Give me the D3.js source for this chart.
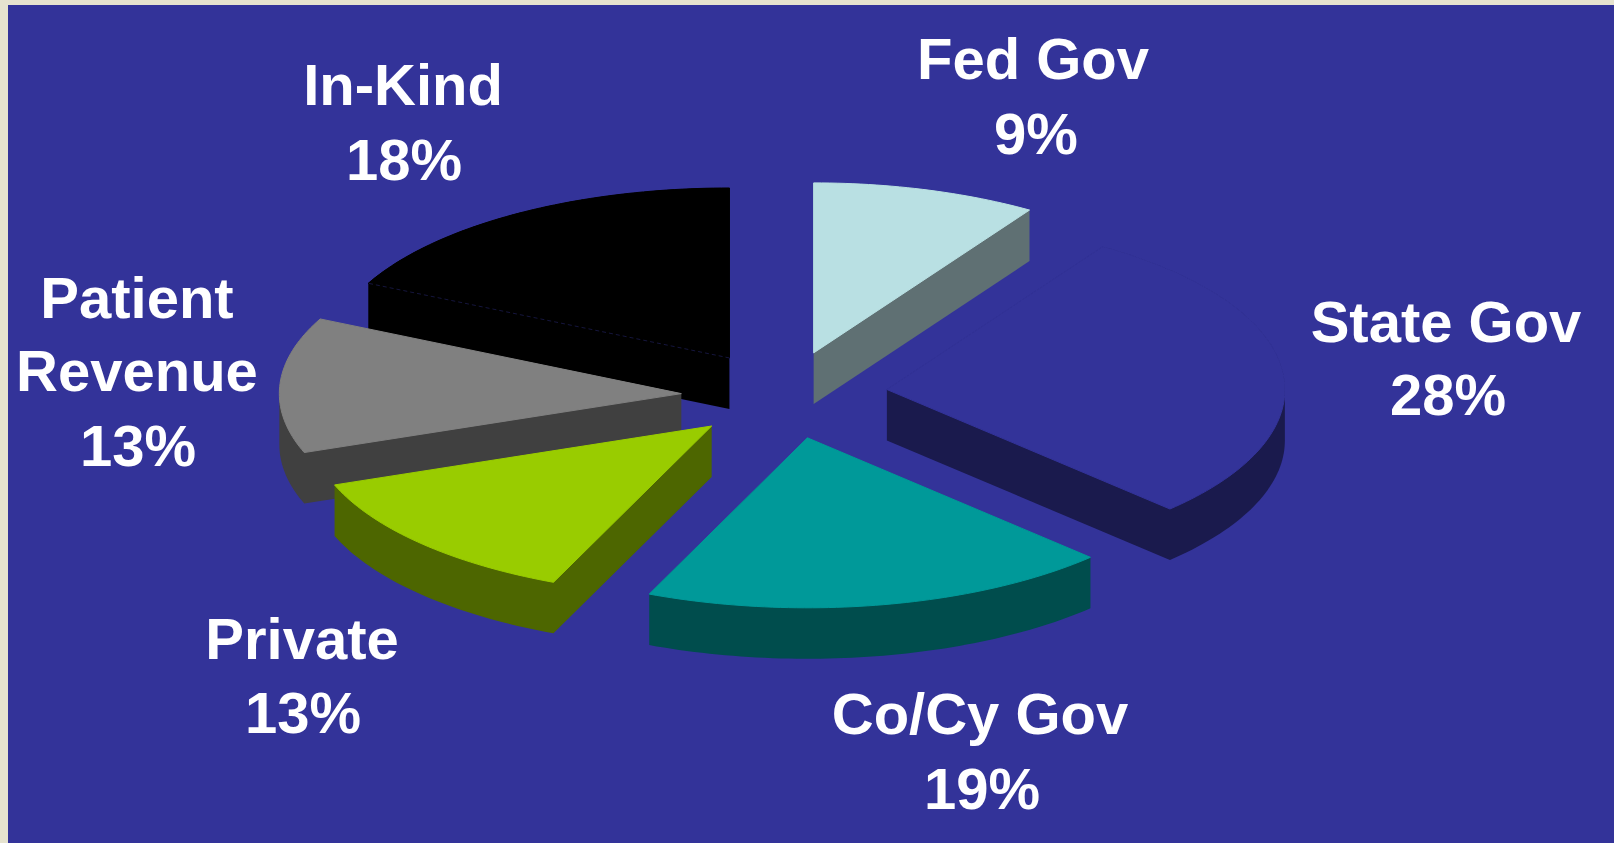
<!DOCTYPE html>
<html>
<head>
<meta charset="utf-8">
<title>Funding sources</title>
<script src="https://d3js.org/d3.v7.min.js"></script>
<style>
  html, body { margin: 0; padding: 0; background: #e6e3cf; overflow: hidden; }
  svg { display: block; }
</style>
</head>
<body>
<svg id="chart" width="1614" height="843"></svg>
<script>
// Funding shares, in percent, clockwise from twelve o'clock.
const sources = ["Fed Gov", "State Gov", "Co/Cy Gov", "Private", "Patient Revenue", "In-Kind"];
const shares = [9, 28, 19, 13, 13, 18];

// Top and wall colours for each wedge.
const topColours = ["#b9e0e3", "#333399", "#009999", "#99cc00", "#808080", "#000000"];
const wallColours = ["#5f7073", "#1a1a4d", "#004d4d", "#4d6600", "#404040", "#000000"];

// Wedges are painted back to front so nearer ones cover farther ones.
const paintOrder = [1, 0, 5, 4, 3, 2];

// Label placement: each text line with its centre x and baseline y.
const labelLayout = [
  [["Fed Gov", 1033, 79], ["9%", 1036, 154]],
  [["State Gov", 1446, 342], ["28%", 1448, 415]],
  [["Co/Cy Gov", 980, 734], ["19%", 982, 809]],
  [["Private", 302, 659], ["13%", 303, 733]],
  [["Patient", 137, 318], ["Revenue", 137, 391], ["13%", 138, 466]],
  [["In-Kind", 403, 105], ["18%", 404, 180]]
];

const width = 1614, height = 843;
const frameLeft = 8, frameTop = 5;
const centre = { x: 785, y: 395 };
const explode = 0.258;
const wallDepth = 51;
const perspectiveSkew = 1.6 * Math.PI / 180;

const svg = d3.select("#chart");

svg.append("rect")
  .attr("x", frameLeft).attr("y", frameTop)
  .attr("width", width - frameLeft).attr("height", height - frameTop)
  .attr("fill", "#333399");

// Unit-circle coordinates are flattened onto the tilted plane of the pie.
const projectX = d3.scaleLinear().domain([-1, 0, 1]).range([-402, 0, 398]);
const projectY = d3.scaleLinear().domain([-1, 1]).range([-170, 170]);

const wedges = d3.pie().sort(null).value(d => d)(shares);

// Perspective drags rim points slightly along the circle, most at the far side.
const rimAngle = t => t + perspectiveSkew * Math.sin(t / 2);

// Outline of a wedge's top face: apex, then points along the rim.
function outline(wedge) {
  const mid = (wedge.startAngle + wedge.endAngle) / 2;
  const ax = centre.x + projectX(explode * Math.sin(mid));
  const ay = centre.y + projectY(-explode * Math.cos(mid));
  const steps = Math.max(4, Math.ceil((wedge.endAngle - wedge.startAngle) / 0.02));
  const rim = d3.range(steps + 1).map(i => {
    const t = rimAngle(wedge.startAngle + (wedge.endAngle - wedge.startAngle) * i / steps);
    return [ax + projectX(Math.sin(t)), ay + projectY(-Math.cos(t))];
  });
  return [[ax, ay], ...rim];
}

const closedPath = d3.line().curve(d3.curveLinearClosed);

const pie = svg.append("g").attr("class", "pie");

paintOrder.forEach(i => {
  const pts = outline(wedges[i]);
  const g = pie.append("g").attr("class", "wedge");

  // Each wedge is convex, so its wall is the hull of the top swept downward.
  const swept = pts.concat(pts.map(([x, y]) => [x, y + wallDepth]));
  g.append("path")
    .attr("d", closedPath(d3.polygonHull(swept)))
    .attr("fill", wallColours[i]);

  g.append("path")
    .attr("d", closedPath(pts))
    .attr("fill", topColours[i])
    .attr("stroke", topColours[i])
    .attr("stroke-width", 1);

  // The black wedge keeps a faint seam between its top and its wall.
  if (sources[i] === "In-Kind") {
    g.append("line")
      .attr("x1", pts[0][0]).attr("y1", pts[0][1])
      .attr("x2", pts[1][0]).attr("y2", pts[1][1])
      .attr("stroke", "#1a1a4d")
      .attr("stroke-width", 0.8)
      .attr("stroke-dasharray", "4 3");
  }
});

// Source names with their percentages.
const labels = svg.append("g")
  .attr("font-family", "'Liberation Sans', Arial, sans-serif")
  .attr("font-weight", "bold")
  .attr("font-size", 58)
  .attr("fill", "#ffffff")
  .attr("text-anchor", "middle");

labelLayout.forEach(lines => {
  lines.forEach(([text, x, y]) => {
    labels.append("text").attr("x", x).attr("y", y).text(text);
  });
});
</script>
</body>
</html>
